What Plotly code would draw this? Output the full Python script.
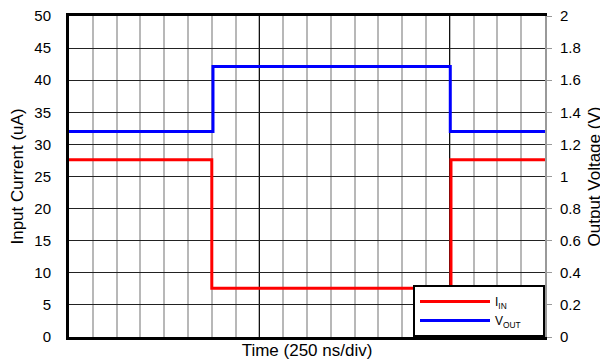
import plotly.graph_objects as go

# Time in divisions (250 ns/div)
t_iin = [0, 6.0, 16.05, 20]
i_in = [27.6, 7.6, 27.6, 27.6]          # uA
t_vout = [0, 6.05, 16.02, 20]
v_out = [1.28, 1.685, 1.28, 1.28]       # V

left_ticks = [0, 5, 10, 15, 20, 25, 30, 35, 40, 45, 50]
right_ticks = [0, 0.2, 0.4, 0.6, 0.8, 1, 1.2, 1.4, 1.6, 1.8, 2]
right_labels = ["0", "0.2", "0.4", "0.6", "0.8", "1", "1.2", "1.4", "1.6", "1.8", "2"]
legend_names = ["I<sub>IN</sub>", "V<sub>OUT</sub>"]

font = "Liberation Sans, Arial, sans-serif"
pad = "&nbsp;" * 5

fig = go.Figure()
fig.add_trace(go.Scatter(x=t_iin, y=i_in, mode="lines", line_shape="hv",
                         line=dict(color="#ff0000", width=3), name=legend_names[0] + pad, yaxis="y"))
fig.add_trace(go.Scatter(x=t_vout, y=v_out, mode="lines", line_shape="hv",
                         line=dict(color="#0000ff", width=3), name=legend_names[1] + pad, yaxis="y2"))

fig.update_layout(
    width=600, height=356,
    margin=dict(l=61, r=63, t=8, b=27, autoexpand=False),
    paper_bgcolor="white", plot_bgcolor="white",
    font=dict(family=font, color="black"),
    showlegend=True,
    legend=dict(x=1.0, xanchor="right", y=0.0, yanchor="bottom",
                bordercolor="black", borderwidth=2, bgcolor="white",
                font=dict(size=12, family=font),
                tracegroupgap=0, itemwidth=70),
    xaxis=dict(range=[0, 20], tickmode="array", tickvals=[0, 8, 16],
               showticklabels=False, ticks="", automargin=False,
               showgrid=True, gridcolor="#111111", gridwidth=1,
               minor=dict(dtick=1, tick0=0, showgrid=True, gridcolor="#b8b8b8", gridwidth=1.6),
               showline=True, linecolor="black", linewidth=3, mirror=True,
               zeroline=False,
               title=dict(text="Time (250 ns/div)", font=dict(size=17), standoff=6)),
    yaxis=dict(range=[0, 50], tickmode="array", tickvals=left_ticks,
               showgrid=True, gridcolor="#222222", gridwidth=1, automargin=False,
               showline=True, linecolor="black", linewidth=3,
               ticks="", ticklabelstandoff=12, zeroline=False,
               ticklabeloverflow="allow",
               tickfont=dict(size=15),
               title=dict(text="Input Current (uA)", font=dict(size=17), standoff=14)),
    yaxis2=dict(range=[0, 2], overlaying="y", side="right", tickmode="array",
                tickvals=right_ticks, ticktext=right_labels, automargin=False,
                showgrid=False, showline=True, linecolor="#999999", linewidth=2,
                ticks="outside", ticklen=5, tickcolor="#999999", tickwidth=1,
                ticklabelstandoff=5, zeroline=False,
                ticklabeloverflow="allow",
                tickfont=dict(size=15),
                title=dict(text="Output Voltage (V)", font=dict(size=17), standoff=8)),
)

fig.write_html("out.html")
